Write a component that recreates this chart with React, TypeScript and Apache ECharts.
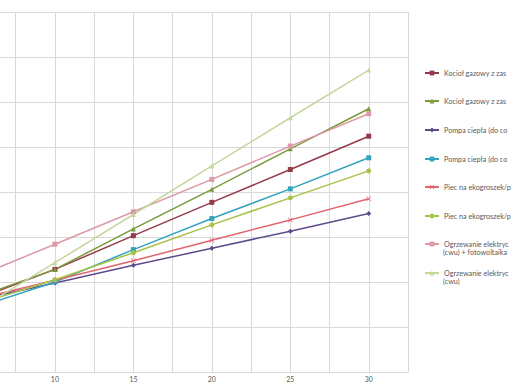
import React, { useEffect, useRef } from "react";
import * as echarts from "echarts";

const years = [5, 10, 15, 20, 25, 30];
const xTickLabels = [10, 15, 20, 25, 30];
const xGridValues = [7.5, 10, 12.5, 15, 17.5, 20, 22.5, 25, 27.5, 30, 32.5];

const seriesNames = [
  "Kocioł gazowy z zasobnikiem (co + cwu)",
  "Kocioł gazowy z zasobnikiem + kolektory",
  "Pompa ciepła (do co i cwu)",
  "Pompa ciepła (do co) + bojler",
  "Piec na ekogroszek/pellet",
  "Piec na ekogroszek/pellet + bojler",
  "Ogrzewanie elektryczne + bojler\n(cwu) + fotowoltaika",
  "Ogrzewanie elektryczne + bojler\n(cwu)",
];

const gasBoiler1 = [16.2, 22.8, 30.3, 37.7, 45.0, 52.4];
const gasBoiler2 = [16.6, 22.8, 31.8, 40.6, 49.6, 58.5];
const heatPump1 = [16.0, 19.8, 23.7, 27.5, 31.3, 35.2];
const heatPump2 = [14.3, 20.0, 27.2, 34.1, 40.7, 47.6];
const coalStove1 = [16.2, 20.4, 24.7, 29.3, 33.8, 38.5];
const coalStove2 = [15.0, 20.5, 26.5, 32.7, 38.7, 44.7];
const electricPv = [21.2, 28.4, 35.6, 42.8, 50.2, 57.4];
const electric = [13.7, 24.3, 35.0, 45.8, 56.5, 67.1];

const allValues = [gasBoiler1, gasBoiler2, heatPump1, heatPump2, coalStove1, coalStove2, electricPv, electric];

const colors = ["#953a4a", "#7a9a3c", "#5f4b8b", "#34a3c0", "#e2646c", "#a5c249", "#dd99a5", "#c4d89e"];
const X_SYMBOL = "path://M0,1L1,0L5,4L9,0L10,1L6,5L10,9L9,10L5,6L1,10L0,9L4,5Z";
const symbols = ["rect", "triangle", "diamond", "rect", X_SYMBOL, "circle", "rect", "triangle"];

const legendCenters = [73, 101, 130, 159, 187, 216, 244, 273];

export default function App() {
  const ref = useRef<HTMLDivElement>(null);
  useEffect(() => {
    if (!ref.current) return;
    const chart = echarts.init(ref.current, null, { renderer: "svg" });
    const font = "Lato, 'Open Sans', sans-serif";
    const series = seriesNames.map((name, i) => ({
      name,
      type: "line",
      data: years.map((y, j) => [y, allValues[i][j]]),
      symbol: symbols[i],
      symbolSize: 5,
      showSymbol: true,
      clip: true,
      lineStyle: { color: colors[i], width: 1.5 },
      itemStyle: { color: colors[i] },
      emphasis: { disabled: true },
    }));
    const legends = seriesNames.map((name, i) => ({
      data: [name],
      orient: "vertical",
      left: 424,
      top: legendCenters[i] - 4.5,
      itemWidth: 14,
      itemHeight: 6,
      padding: 0,
      selectedMode: false,
      formatter: (n: string) => n.split("\n")[0],
      textStyle: {
        fontFamily: font,
        fontSize: 7.2,
        color: "#595959",
        lineHeight: 9,
        width: 68,
        overflow: "truncate",
        ellipsis: "",
      },
    }));
    const secondLines = [6, 7].map((i) => ({
      type: "text",
      left: 443,
      top: legendCenters[i] + 5,
      style: {
        text: seriesNames[i].split("\n")[1],
        fontFamily: font,
        fontSize: 7.2,
        fill: "#595959",
        width: 68,
        overflow: "truncate",
        ellipsis: "",
      },
    }));
    chart.setOption({
      animation: false,
      backgroundColor: "#ffffff",
      grid: {
        left: 0,
        right: 104,
        top: 12,
        bottom: 12,
        show: false,
        containLabel: false,
      },
      legend: legends,
      graphic: secondLines,
      xAxis: {
        type: "value",
        min: 6.5,
        max: 32.5,
        axisLine: { show: true, lineStyle: { color: "#d9d9d9" } },
        axisTick: { show: false, customValues: xGridValues },
        splitLine: { show: true, lineStyle: { color: "#d9d9d9", width: 1 } },
        axisLabel: {
          customValues: xTickLabels,
          fontFamily: font,
          fontSize: 7,
          color: "#595959",
          margin: 3,
        },
      },
      yAxis: {
        type: "value",
        min: 0,
        max: 80,
        interval: 10,
        axisLine: { show: false },
        axisTick: { show: false },
        axisLabel: { show: false },
        splitLine: { show: true, lineStyle: { color: "#d9d9d9", width: 1 } },
      },
      series,
    });
    return () => chart.dispose();
  }, []);
  return <div ref={ref} style={{ width: 512, height: 384, position: "absolute", left: 0, top: 0 }} />;
}
